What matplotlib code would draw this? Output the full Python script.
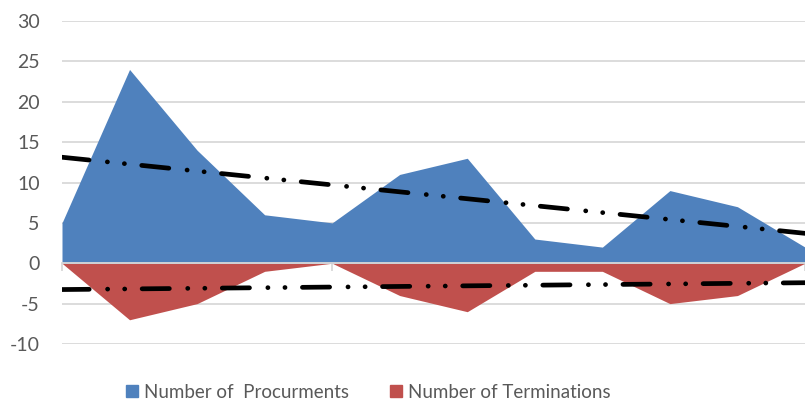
import numpy as np
import matplotlib
matplotlib.use("Agg")
import matplotlib.pyplot as plt
from matplotlib.patches import Patch

plt.rcParams['font.family'] = ['Lato', 'DejaVu Sans']
plt.rcParams['lines.scale_dashes'] = False
plt.rcParams['axes.unicode_minus'] = False

# data
periods = np.arange(12)
procurements = [5, 24, 14, 6, 5, 11, 13, 3, 2, 9, 7, 2]
terminations = [0, -7, -5, -1, 0, -4, -6, -1, -1, -5, -4, 0]

blue = "#4f81bd"
red = "#c0504d"
grey_txt = "#595959"
grid_c = "#d9d9d9"

fig = plt.figure(figsize=(8.05, 4.04), dpi=100)
ax = fig.add_axes([62/805, 60/404, 1 - 62/805, 323/404])

ax.fill_between(periods, procurements, 0, color=blue, lw=0, zorder=2)
ax.fill_between(periods, terminations, 0, color=red, lw=0, zorder=2)

# linear trend lines (like excel), long dash - dot - dot
dash = (19.6, 13.2, 0.1, 12.2, 0.1, 12.5)
for series in (procurements, terminations):
    k, b = np.polyfit(periods + 1, series, 1)
    ax.plot(periods, k * (periods + 1) + b, color="black", lw=3.4,
            dashes=dash, dash_capstyle="round", zorder=4)

ax.set_xlim(0, 11)
ax.set_ylim(-10, 30)
ax.set_yticks(np.arange(-10, 31, 5))
ax.yaxis.grid(True, color=grid_c, lw=1.3, zorder=0)
ax.set_axisbelow(True)

for s in ["top", "right", "left"]:
    ax.spines[s].set_visible(False)
ax.spines["bottom"].set_position(("data", 0))
ax.spines["bottom"].set_color(grid_c)
ax.spines["bottom"].set_linewidth(1.3)
ax.spines["bottom"].set_zorder(3)

ax.set_xticks(periods)
ax.set_xticklabels([])
ax.tick_params(axis="x", length=6, width=1.3, color=grid_c, direction="out")
ax.tick_params(axis="y", length=0, pad=16, labelsize=14, labelcolor=grey_txt)

handles = [Patch(color=blue, label="Number of  Procurments"),
           Patch(color=red, label="Number of Terminations")]
fig.legend(handles=handles, loc="center", bbox_to_anchor=(368/805, 1 - 392/404),
           ncol=2, frameon=False, fontsize=13.5, labelcolor=grey_txt,
           handlelength=0.65, handleheight=0.65, handletextpad=0.3,
           columnspacing=2.2)

fig.savefig("out.png", dpi=100)
